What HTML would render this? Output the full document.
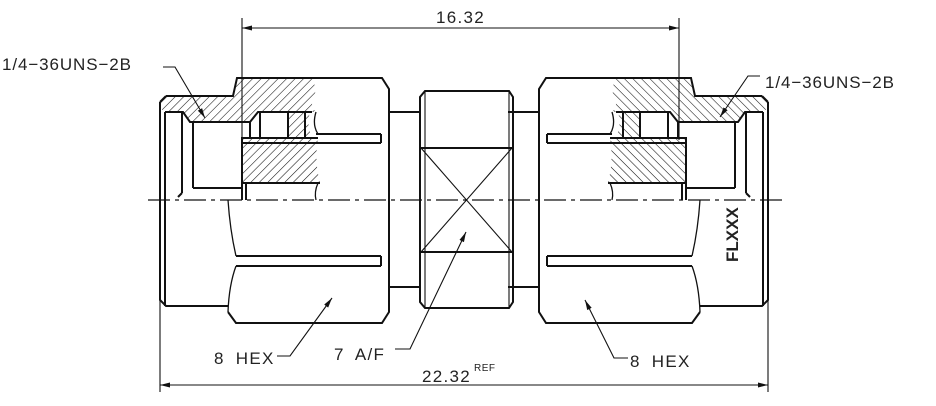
<!DOCTYPE html>
<html><head><meta charset="utf-8"><style>
html,body{margin:0;padding:0;background:#fff;}
svg{display:block;}
text{font-family:"Liberation Sans",sans-serif;fill:#222;}
</style></head><body>
<svg width="936" height="406" viewBox="0 0 936 406" xmlns="http://www.w3.org/2000/svg">
<defs>
<pattern id="hA" width="6" height="6" patternUnits="userSpaceOnUse" patternTransform="rotate(45)">
<line x1="0" y1="0" x2="0" y2="6" stroke="#111" stroke-width="1.1"/>
</pattern>
<marker id="ar" markerWidth="10" markerHeight="6" refX="10" refY="3" orient="auto" markerUnits="userSpaceOnUse">
<path d="M0,0.5 L10,3 L0,5.5 Z" fill="#111"/>
</marker>
<g id="half">
<path class="hat" d="M160,102 L166,96 L233,96 L237,78 L312,78 Q318,90 313,100 Q310,106 316,112 L258,112 L250,122 L190,122 L183,112 L165,112 L160,108 Z"/>
<path class="hat" d="M288,112 L310,112 Q306,124 312,137 L288,137 Z"/>
<path class="hat" d="M242,138 L318,138 Q314,160 320,183 L242,183 Z"/>
<g fill="none" stroke="#111" stroke-width="2">
<path d="M166,96 L233,96 L237,78 L382,78 L389,89 L389,312 L382,323 L236,323 L228,312"/>
<path d="M160,102 L166,96 M160,102 L160,300 L166,306 L228,306"/>
<line x1="165" y1="112" x2="165" y2="306"/>
<path d="M165,112 L183,112 L190,122 L250,122 L258,112 L312,112"/>
<rect x="260" y="112" width="45" height="26"/>
<line x1="288" y1="112" x2="288" y2="138"/>
<path d="M242,200 L242,138 L318,138"/>
<line x1="242" y1="143" x2="316" y2="143"/>
<line x1="242" y1="183" x2="320" y2="183"/>
<line x1="182" y1="112" x2="182" y2="193"/>
<line x1="193" y1="122" x2="193" y2="188"/>
<path d="M193,188 L242,188"/>
<path d="M182,193 L178,197"/>
<line x1="250" y1="122" x2="250" y2="138"/>
<line x1="246" y1="183" x2="246" y2="200"/>
<line x1="316" y1="134" x2="381" y2="134"/>
<line x1="316" y1="143" x2="381" y2="143"/>
<line x1="236" y1="256" x2="381" y2="256"/>
<line x1="236" y1="266" x2="381" y2="266"/>
<line x1="381" y1="134" x2="381" y2="143"/>
<line x1="381" y1="256" x2="381" y2="266"/>
<line x1="389" y1="112" x2="420" y2="112"/>
<line x1="389" y1="287" x2="420" y2="287"/>
</g>
<g fill="none" stroke="#111" stroke-width="1.3">
<path d="M228,200 Q230,230 236,256 M236,266 Q229,285 228,312"/>
<path d="M316,112 Q312,125 318,134"/>
<path d="M318,183 Q314,192 316,200"/>
</g>
</g>
</defs>
<style>.hat{fill:url(#hA);}</style>

<use href="#half"/>
<g transform="translate(928,0) scale(-1,1)">
<use href="#half"/>
</g>

<g fill="none" stroke="#111" stroke-width="2">
<path d="M425,91 L509,91 L513,97 L513,302 L509,308 L425,308 L420,302 L420,97 Z"/>
<line x1="420" y1="148" x2="513" y2="148"/>
<line x1="420" y1="252" x2="513" y2="252"/>
</g>
<g stroke="#111" stroke-width="1.1" fill="none">
<line x1="421" y1="148" x2="512" y2="252"/>
<line x1="512" y1="148" x2="421" y2="252"/>
<line x1="425" y1="91" x2="425" y2="308"/>
<line x1="509" y1="91" x2="509" y2="308"/>
</g>

<line x1="148" y1="200" x2="785" y2="200" stroke="#111" stroke-width="1.2" stroke-dasharray="22,5,4,5"/>

<g stroke="#111" stroke-width="1.1" fill="none">
<line x1="242" y1="18" x2="242" y2="138"/>
<line x1="679" y1="18" x2="679" y2="140"/>
<line x1="242" y1="28" x2="679" y2="28" marker-end="url(#ar)"/>
<line x1="679" y1="28" x2="242" y2="28" marker-end="url(#ar)"/>
<line x1="160" y1="300" x2="160" y2="392"/>
<line x1="768" y1="300" x2="768" y2="392"/>
<line x1="160" y1="385" x2="768" y2="385" marker-end="url(#ar)"/>
<line x1="768" y1="385" x2="160" y2="385" marker-end="url(#ar)"/>
<polyline points="163,67 175,67 205,118" marker-end="url(#ar)"/>
<polyline points="760,76 748,76 720,117" marker-end="url(#ar)"/>
<polyline points="277,356 290,356 332,298" marker-end="url(#ar)"/>
<polyline points="395,349 410,349 466,232" marker-end="url(#ar)"/>
<polyline points="628,358 614,358 585,300" marker-end="url(#ar)"/>
</g>

<g font-size="17" letter-spacing="1.3">
<text x="436" y="23">16.32</text>
<text x="2" y="70" letter-spacing="0.9">1/4−36UNS−2B</text>
<text x="765" y="88" letter-spacing="0.9">1/4−36UNS−2B</text>
<text x="214" y="364" word-spacing="5">8 HEX</text>
<text x="334" y="360" word-spacing="5">7 A/F</text>
<text x="630" y="367" word-spacing="5">8 HEX</text>
<text x="422" y="382">22.32</text>
<text x="474" y="371" font-size="10" letter-spacing="0.5">REF</text>
</g>
<text transform="translate(738,262) rotate(-90)" font-size="17" font-weight="bold">FLXXX</text>
</svg>
</body></html>
